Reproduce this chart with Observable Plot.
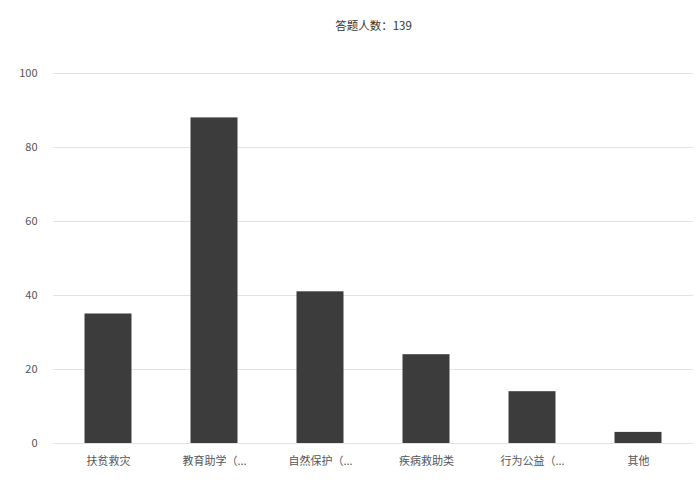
<!DOCTYPE html>
<html>
<head>
<meta charset="utf-8">
<script src="https://cdn.jsdelivr.net/npm/d3@7"></script>
<script src="https://cdn.jsdelivr.net/npm/@observablehq/plot@0.6"></script>
<style>
  html, body { margin: 0; padding: 0; background: #fff; }
  #chart { width: 696px; height: 491px; }
</style>
</head>
<body>
<div id="chart"></div>
<script>
const title = "答题人数：139";
const categories = ["扶贫救灾", "教育助学（...", "自然保护（...", "疾病救助类", "行为公益（...", "其他"];
const counts = [35, 88, 41, 24, 14, 3];
const yTicks = [0, 20, 40, 60, 80, 100];

const data = categories.map((c, i) => ({category: c, count: counts[i]}));

const chart = Plot.plot({
  width: 696,
  height: 491,
  marginLeft: 53,
  marginRight: 3,
  marginTop: 73,
  marginBottom: 48,
  style: {fontFamily: "'Noto Sans CJK SC', 'Noto Sans', sans-serif", fontSize: "11px", color: "#555", background: "#fff"},
  x: {domain: categories, padding: 0, label: null},
  y: {domain: [0, 100], ticks: yTicks, label: null},
  marks: [
    Plot.gridY(yTicks, {stroke: "#e2e2e2", strokeOpacity: 1, strokeWidth: 1}),
    Plot.barY(data, {x: "category", y: "count", fill: "#3c3c3c", insetLeft: 29.5, insetRight: 29.5}),
    Plot.axisX({tickSize: 0, tickPadding: 14, fontSize: 11, fill: "#555"}),
    Plot.axisY(yTicks, {tickSize: 0, tickPadding: 16, fontSize: 11, fill: "#555"}),
    Plot.text([title], {frameAnchor: "top", dy: -52, fontSize: 11.5, fill: "#333", text: d => d})
  ]
});
document.getElementById("chart").appendChild(chart);
</script>
</body>
</html>
